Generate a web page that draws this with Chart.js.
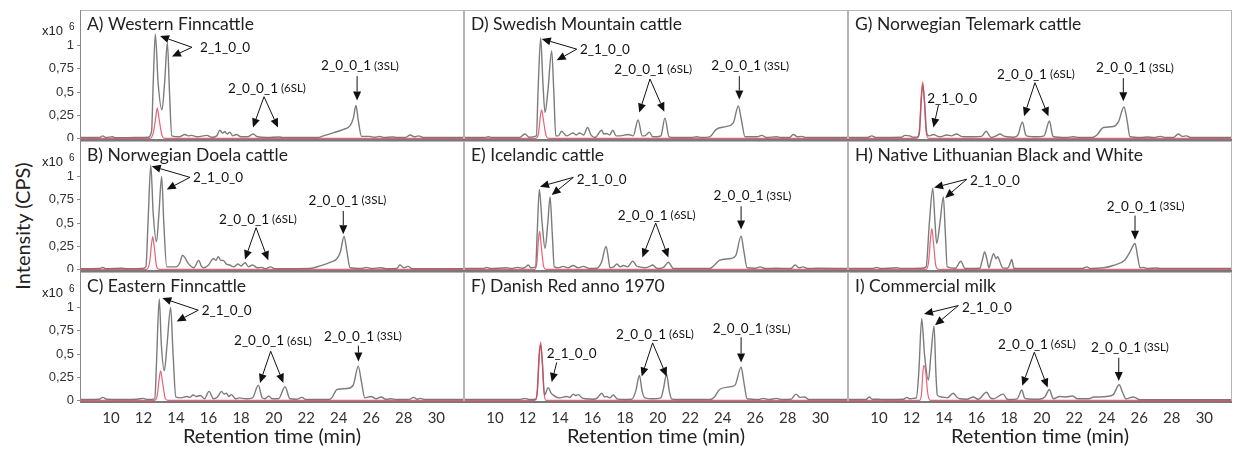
<!DOCTYPE html>
<html>
<head>
<meta charset="utf-8">
<script src="https://cdn.jsdelivr.net/npm/chart.js@4.4.0/dist/chart.umd.min.js"></script>
<style>
  body { margin: 0; background: #fff; width: 1235px; height: 451px; overflow: hidden; position: relative; }
  .panel { position: absolute; }
  #yTitle {
    position: absolute; left: -78px; top: 214px; width: 200px; height: 24px;
    text-align: center; font: 20px Lato, sans-serif; color: #222;
    transform: rotate(-90deg); line-height: 24px;
  }
</style>
</head>
<body>
<div id="yTitle">Intensity (CPS)</div>

<script>
// axis ticks
const xTickValues = [10, 12, 14, 16, 18, 20, 22, 24, 26, 28, 30];
const yTickValues = [0, 0.25, 0.5, 0.75, 1];
const yTickLabels = ["0", "0,25", "0,5", "0,75", "1"];

// [retention time (min), intensity (x10^6 CPS)]
const westernFinnGray = [[8.1,0.012],[9.3,0.012],[9.5,0.03],[9.7,0.012],[10.1,0.02],[10.3,0.01],[11.5,0.012],[12.3,0.015],[12.5,0.08],[12.6,0.6],[12.73,1.12],[12.9,0.6],[13.14,0.31],[13.3,0.6],[13.47,1.03],[13.6,0.5],[13.74,0.03],[14.2,0.02],[14.55,0.045],[14.75,0.03],[14.96,0.035],[15.3,0.02],[15.9,0.035],[16.2,0.015],[16.5,0.03],[16.7,0.09],[16.85,0.06],[17.0,0.075],[17.15,0.05],[17.3,0.07],[17.5,0.03],[17.7,0.045],[18.0,0.02],[18.4,0.02],[18.75,0.05],[19.0,0.02],[19.6,0.012],[20.3,0.018],[20.6,0.012],[22.7,0.012],[23.05,0.03],[23.7,0.065],[24.3,0.1],[24.7,0.14],[24.9,0.22],[25.06,0.355],[25.2,0.2],[25.4,0.025],[25.9,0.025],[26.2,0.015],[26.5,0.025],[26.8,0.012],[27.3,0.018],[27.6,0.012],[28.1,0.012],[28.4,0.04],[28.65,0.02],[28.9,0.03],[29.2,0.012],[31.7,0.012]];
const westernFinnRed = [[8.1,0.004],[12.4,0.004],[12.6,0.06],[12.75,0.22],[12.85,0.33],[12.97,0.2],[13.15,0.03],[13.3,0.004],[31.7,0.004]];

const doelaGray = [[8.1,0.01],[9.3,0.012],[9.5,0.025],[9.7,0.01],[10.7,0.015],[11.0,0.01],[11.9,0.012],[12.15,0.03],[12.28,0.5],[12.45,1.12],[12.6,0.6],[12.8,0.3],[12.95,0.6],[13.12,1.0],[13.25,0.5],[13.43,0.03],[14.0,0.03],[14.25,0.08],[14.4,0.155],[14.55,0.13],[14.7,0.08],[14.9,0.04],[15.1,0.02],[15.4,0.1],[15.55,0.04],[15.7,0.02],[16.0,0.05],[16.3,0.12],[16.45,0.1],[16.6,0.14],[16.75,0.1],[16.9,0.1],[17.1,0.06],[17.3,0.05],[17.55,0.03],[17.8,0.06],[18.0,0.04],[18.25,0.075],[18.45,0.03],[18.7,0.05],[19.0,0.02],[19.27,0.025],[19.5,0.01],[19.8,0.03],[20.1,0.01],[22.2,0.012],[22.85,0.04],[23.5,0.08],[23.9,0.12],[24.1,0.19],[24.33,0.355],[24.5,0.2],[24.7,0.02],[25.4,0.012],[25.7,0.025],[26.0,0.012],[26.6,0.02],[26.9,0.01],[27.55,0.012],[27.77,0.05],[28.0,0.02],[28.26,0.035],[28.5,0.01],[31.7,0.01]];
const doelaRed = [[8.1,0.004],[12.2,0.004],[12.38,0.08],[12.5,0.28],[12.57,0.355],[12.66,0.25],[12.8,0.04],[12.95,0.004],[31.7,0.004]];

const easternFinnGray = [[8.1,0.012],[9.3,0.015],[9.5,0.035],[9.75,0.015],[10.5,0.012],[11.6,0.015],[12.0,0.025],[12.2,0.012],[12.7,0.02],[12.8,0.4],[12.97,1.09],[13.1,0.6],[13.28,0.32],[13.45,0.6],[13.67,1.0],[13.82,0.5],[13.99,0.04],[14.3,0.03],[14.66,0.045],[14.85,0.035],[15.05,0.06],[15.25,0.045],[15.5,0.055],[15.75,0.02],[16.03,0.1],[16.3,0.02],[16.55,0.04],[16.8,0.1],[16.95,0.07],[17.1,0.08],[17.25,0.045],[17.4,0.065],[17.65,0.02],[17.9,0.03],[18.3,0.02],[18.7,0.03],[19.06,0.165],[19.3,0.03],[19.47,0.02],[19.7,0.05],[19.9,0.02],[20.3,0.02],[20.7,0.15],[21.0,0.02],[21.4,0.015],[21.73,0.035],[22.0,0.012],[23.4,0.012],[23.57,0.03],[23.9,0.12],[24.5,0.13],[24.9,0.17],[25.2,0.37],[25.4,0.2],[25.6,0.03],[26.0,0.045],[26.3,0.02],[26.6,0.04],[26.9,0.015],[27.25,0.02],[27.5,0.012],[28.3,0.012],[28.6,0.035],[28.8,0.015],[29.0,0.025],[29.3,0.012],[31.7,0.012]];
const easternFinnRed = [[8.1,0.004],[12.7,0.004],[12.85,0.06],[12.97,0.24],[13.06,0.32],[13.17,0.2],[13.35,0.02],[13.5,0.004],[31.7,0.004]];

const swedishGray = [[8.1,0.012],[9.4,0.012],[9.6,0.02],[9.8,0.012],[11.5,0.012],[11.85,0.05],[12.1,0.015],[12.55,0.03],[12.65,0.5],[12.81,1.08],[12.95,0.6],[13.08,0.28],[13.25,0.5],[13.49,0.94],[13.62,0.5],[13.74,0.03],[13.9,0.03],[14.1,0.08],[14.4,0.03],[14.8,0.06],[15.0,0.04],[15.2,0.06],[15.45,0.04],[15.7,0.12],[15.9,0.04],[16.15,0.012],[16.56,0.09],[16.7,0.05],[16.87,0.055],[17.05,0.04],[17.24,0.09],[17.45,0.03],[17.7,0.03],[18.2,0.045],[18.5,0.03],[18.8,0.2],[19.05,0.03],[19.2,0.03],[19.5,0.07],[19.7,0.02],[19.94,0.02],[20.2,0.03],[20.45,0.22],[20.7,0.02],[21.0,0.012],[22.1,0.012],[22.4,0.02],[22.7,0.012],[23.2,0.02],[23.6,0.1],[24.2,0.13],[24.65,0.17],[24.96,0.35],[25.15,0.2],[25.37,0.02],[26.1,0.02],[26.4,0.035],[26.7,0.012],[27.3,0.02],[27.6,0.012],[28.1,0.012],[28.34,0.045],[28.6,0.02],[28.86,0.025],[29.1,0.012],[31.7,0.012]];
const swedishRed = [[8.1,0.004],[12.5,0.004],[12.68,0.06],[12.8,0.25],[12.87,0.31],[12.98,0.2],[13.15,0.03],[13.3,0.004],[31.7,0.004]];

const icelandicGray = [[8.1,0.012],[9.3,0.012],[9.5,0.025],[9.7,0.012],[10.7,0.02],[11.0,0.012],[11.4,0.025],[11.7,0.015],[11.9,0.03],[12.05,0.05],[12.2,0.02],[12.5,0.03],[12.6,0.4],[12.73,0.86],[12.9,0.5],[13.08,0.23],[13.25,0.5],[13.39,0.78],[13.52,0.4],[13.65,0.03],[13.9,0.02],[14.2,0.035],[14.5,0.02],[14.82,0.045],[15.1,0.02],[15.43,0.035],[15.8,0.012],[16.26,0.015],[16.55,0.08],[16.83,0.25],[16.95,0.15],[17.07,0.02],[17.3,0.03],[17.5,0.06],[17.7,0.03],[17.9,0.045],[18.15,0.03],[18.47,0.09],[18.7,0.04],[18.9,0.03],[19.2,0.02],[19.45,0.03],[19.7,0.05],[19.9,0.02],[20.1,0.012],[20.4,0.03],[20.66,0.08],[20.97,0.012],[23.2,0.012],[23.5,0.05],[23.8,0.1],[24.5,0.12],[24.8,0.15],[25.13,0.36],[25.3,0.2],[25.5,0.02],[26.0,0.015],[26.3,0.03],[26.6,0.012],[27.3,0.015],[28.2,0.012],[28.45,0.05],[28.7,0.02],[28.94,0.03],[29.2,0.012],[29.78,0.015],[31.7,0.012]];
const icelandicRed = [[8.1,0.004],[12.45,0.004],[12.58,0.08],[12.68,0.33],[12.75,0.41],[12.85,0.25],[13.0,0.03],[13.15,0.004],[31.7,0.004]];

const danishGray = [[8.1,0.012],[11.5,0.012],[11.85,0.025],[12.1,0.012],[12.5,0.015],[12.6,0.1],[12.72,0.5],[12.81,0.6],[12.92,0.4],[13.05,0.06],[13.28,0.14],[13.45,0.08],[13.59,0.06],[13.8,0.035],[14.0,0.03],[14.41,0.045],[14.6,0.035],[14.82,0.07],[14.95,0.055],[15.13,0.065],[15.35,0.03],[15.64,0.02],[16.0,0.015],[16.3,0.03],[16.56,0.08],[16.75,0.04],[16.87,0.045],[17.05,0.03],[17.28,0.06],[17.5,0.02],[17.9,0.012],[18.4,0.015],[18.65,0.1],[18.88,0.27],[19.05,0.1],[19.22,0.03],[19.7,0.02],[20.2,0.03],[20.35,0.12],[20.55,0.28],[20.72,0.1],[20.86,0.02],[21.2,0.012],[23.2,0.012],[23.5,0.04],[23.8,0.12],[24.5,0.15],[24.77,0.17],[25.13,0.36],[25.3,0.2],[25.5,0.02],[26.2,0.012],[26.5,0.025],[26.8,0.012],[27.3,0.025],[27.6,0.012],[28.2,0.015],[28.5,0.07],[28.75,0.035],[29.05,0.04],[29.3,0.012],[31.7,0.012]];
const danishRed = [[8.1,0.004],[12.45,0.004],[12.6,0.08],[12.72,0.45],[12.81,0.63],[12.9,0.45],[13.02,0.08],[13.15,0.004],[31.7,0.004]];

const telemarkGray = [[8.1,0.012],[9.3,0.012],[9.56,0.03],[9.8,0.012],[11.4,0.015],[11.6,0.035],[11.9,0.03],[12.1,0.015],[12.4,0.02],[12.5,0.08],[12.6,0.4],[12.69,0.58],[12.8,0.4],[12.95,0.05],[13.1,0.03],[13.35,0.045],[13.55,0.03],[13.76,0.02],[14.17,0.04],[14.45,0.03],[14.78,0.05],[15.0,0.03],[15.19,0.02],[15.8,0.02],[16.3,0.025],[16.6,0.08],[16.8,0.03],[16.93,0.012],[17.2,0.03],[17.44,0.05],[17.65,0.03],[17.85,0.02],[18.3,0.015],[18.55,0.04],[18.82,0.18],[19.0,0.05],[19.08,0.03],[19.7,0.02],[20.15,0.03],[20.48,0.19],[20.65,0.05],[20.73,0.02],[21.5,0.012],[21.96,0.02],[22.3,0.012],[23.1,0.012],[23.4,0.04],[23.8,0.12],[24.4,0.13],[24.72,0.18],[25.06,0.34],[25.25,0.2],[25.43,0.02],[26.1,0.012],[26.5,0.018],[26.9,0.012],[27.3,0.025],[27.6,0.012],[28.1,0.012],[28.4,0.05],[28.65,0.025],[28.9,0.03],[29.15,0.012],[31.7,0.012]];
const telemarkRed = [[8.1,0.004],[12.3,0.004],[12.48,0.08],[12.6,0.45],[12.69,0.61],[12.78,0.45],[12.9,0.08],[13.05,0.004],[31.7,0.004]];

const lithuanianGray = [[8.1,0.012],[9.6,0.012],[9.87,0.025],[10.1,0.012],[11.1,0.02],[11.4,0.012],[12.6,0.015],[12.9,0.03],[13.1,0.5],[13.31,0.87],[13.45,0.5],[13.55,0.28],[13.75,0.5],[13.96,0.78],[14.08,0.4],[14.2,0.03],[14.7,0.015],[15.03,0.09],[15.3,0.012],[16.2,0.015],[16.35,0.1],[16.5,0.19],[16.65,0.1],[16.76,0.02],[16.9,0.1],[17.05,0.17],[17.2,0.12],[17.3,0.14],[17.45,0.08],[17.6,0.02],[17.9,0.015],[18.05,0.06],[18.16,0.11],[18.3,0.015],[18.7,0.012],[22.5,0.012],[22.78,0.03],[23.0,0.012],[23.8,0.02],[24.4,0.045],[25.1,0.1],[25.4,0.18],[25.74,0.28],[25.9,0.14],[26.05,0.02],[26.25,0.025],[26.5,0.012],[27.07,0.018],[27.3,0.012],[31.7,0.012]];
const lithuanianRed = [[8.1,0.004],[12.9,0.004],[13.05,0.08],[13.18,0.35],[13.25,0.44],[13.35,0.3],[13.5,0.04],[13.65,0.004],[31.7,0.004]];

const commercialGray = [[8.1,0.012],[9.2,0.012],[9.41,0.04],[9.6,0.015],[9.97,0.015],[10.3,0.012],[11.5,0.015],[11.71,0.035],[11.9,0.02],[12.1,0.025],[12.3,0.03],[12.45,0.3],[12.63,0.88],[12.8,0.5],[13.04,0.22],[13.2,0.5],[13.39,0.8],[13.5,0.3],[13.59,0.06],[13.86,0.04],[14.2,0.03],[14.57,0.08],[14.78,0.04],[14.98,0.02],[15.4,0.015],[15.8,0.04],[16.1,0.015],[16.62,0.09],[16.85,0.03],[17.03,0.02],[17.64,0.07],[17.85,0.02],[18.06,0.012],[18.5,0.02],[18.78,0.115],[18.95,0.03],[19.08,0.02],[19.8,0.015],[20.2,0.04],[20.48,0.12],[20.65,0.04],[20.73,0.02],[21.1,0.045],[21.5,0.04],[21.9,0.05],[22.2,0.02],[22.56,0.02],[22.9,0.02],[23.2,0.04],[23.6,0.04],[24.0,0.045],[24.4,0.065],[24.77,0.17],[24.95,0.1],[25.18,0.02],[25.64,0.04],[26.05,0.01],[31.7,0.01]];
const commercialRed = [[8.1,0.004],[12.5,0.004],[12.62,0.08],[12.7,0.3],[12.77,0.38],[12.88,0.3],[13.0,0.08],[13.15,0.004],[31.7,0.004]];

// annotations: labels [text, small text, time, intensity, align], arrows [t1, v1, t2, v2]
const labelsA = [["2_1_0_0", "", 15.48, 0.98, "left"], ["2_0_0_1", "(6SL)", 19.59, 0.54, "center"], ["2_0_0_1", "(3SL)", 25.31, 0.78, "center"]];
const arrowsA = [[14.98,0.98,13.02,1.10],[14.98,0.98,13.75,0.88],[19.41,0.45,18.73,0.12],[19.41,0.45,20.27,0.12],[25.13,0.67,25.13,0.41]];
const labelsB = [["2_1_0_0", "", 15.05, 0.99, "left"], ["2_0_0_1", "(6SL)", 19.04, 0.54, "center"], ["2_0_0_1", "(3SL)", 24.54, 0.74, "center"]];
const arrowsB = [[14.86,0.99,12.51,1.11],[14.86,0.99,13.43,0.86],[18.92,0.45,18.24,0.11],[18.92,0.45,19.67,0.10],[24.28,0.63,24.28,0.38]];
const labelsC = [["2_1_0_0", "", 15.58, 0.97, "left"], ["2_0_0_1", "(6SL)", 19.96, 0.64, "center"], ["2_0_0_1", "(3SL)", 25.49, 0.69, "center"]];
const arrowsC = [[15.37,0.97,13.16,1.10],[15.37,0.97,14.04,0.85],[19.82,0.53,19.16,0.19],[19.82,0.53,20.6,0.19],[25.21,0.59,25.21,0.42]];
const labelsD = [["2_1_0_0", "", 15.23, 0.96, "left"], ["2_0_0_1", "(6SL)", 19.72, 0.74, "center"], ["2_0_0_1", "(3SL)", 25.68, 0.78, "center"]];
const arrowsD = [[15.03,0.96,12.88,1.07],[15.03,0.96,13.8,0.84],[19.53,0.64,18.87,0.28],[19.53,0.64,20.41,0.29],[25.02,0.67,25.02,0.42]];
const labelsE = [["2_1_0_0", "", 15.03, 0.97, "left"], ["2_0_0_1", "(6SL)", 19.94, 0.58, "center"], ["2_0_0_1", "(3SL)", 25.83, 0.79, "center"]];
const arrowsE = [[14.82,0.99,12.77,0.89],[14.82,0.99,13.49,0.80],[19.88,0.50,19.06,0.13],[19.88,0.50,20.66,0.13],[25.13,0.68,25.13,0.43]];
const labelsF = [["2_1_0_0", "", 13.18, 0.50, "left"], ["2_0_0_1", "(6SL)", 19.84, 0.71, "center"], ["2_0_0_1", "(3SL)", 25.78, 0.77, "center"]];
const arrowsF = [[13.8,0.41,13.49,0.20],[19.69,0.62,19.02,0.26],[19.69,0.62,20.56,0.26],[25.13,0.68,25.13,0.41]];
const labelsG = [["2_1_0_0", "", 12.97, 0.43, "left"], ["2_0_0_1", "(6SL)", 19.65, 0.69, "center"], ["2_0_0_1", "(3SL)", 25.74, 0.76, "center"]];
const arrowsG = [[13.66,0.36,13.35,0.12],[19.59,0.60,18.92,0.24],[19.59,0.60,20.42,0.24],[25.02,0.65,25.02,0.40]];
const labelsH = [["2_1_0_0", "", 15.6, 0.95, "left"], ["2_0_0_1", "(3SL)", 26.4, 0.68, "center"]];
const arrowsH = [[15.4,0.97,13.39,0.88],[15.4,0.97,14.07,0.77],[25.74,0.58,25.74,0.32]];
const labelsI = [["2_1_0_0", "", 15.1, 1.0, "left"], ["2_0_0_1", "(6SL)", 19.71, 0.60, "center"], ["2_0_0_1", "(3SL)", 25.43, 0.57, "center"]];
const arrowsI = [[14.88,1.02,12.77,0.93],[14.88,1.02,13.45,0.81],[19.55,0.52,18.81,0.16],[19.55,0.52,20.37,0.14],[24.74,0.46,24.74,0.21]];

const panels = [
  { col: 0, row: 0, title: "A) Western Finncattle", gray: westernFinnGray, red: westernFinnRed, labels: labelsA, arrows: arrowsA },
  { col: 0, row: 1, title: "B) Norwegian Doela cattle", gray: doelaGray, red: doelaRed, labels: labelsB, arrows: arrowsB },
  { col: 0, row: 2, title: "C) Eastern Finncattle", gray: easternFinnGray, red: easternFinnRed, labels: labelsC, arrows: arrowsC },
  { col: 1, row: 0, title: "D) Swedish Mountain cattle", gray: swedishGray, red: swedishRed, labels: labelsD, arrows: arrowsD },
  { col: 1, row: 1, title: "E) Icelandic cattle", gray: icelandicGray, red: icelandicRed, labels: labelsE, arrows: arrowsE },
  { col: 1, row: 2, title: "F) Danish Red anno 1970", gray: danishGray, red: danishRed, labels: labelsF, arrows: arrowsF },
  { col: 2, row: 0, title: "G) Norwegian Telemark cattle", gray: telemarkGray, red: telemarkRed, labels: labelsG, arrows: arrowsG },
  { col: 2, row: 1, title: "H) Native Lithuanian Black and White", gray: lithuanianGray, red: lithuanianRed, labels: labelsH, arrows: arrowsH },
  { col: 2, row: 2, title: "I) Commercial milk", gray: commercialGray, red: commercialRed, labels: labelsI, arrows: arrowsI },
];

const PLOT_W = 384, PLOT_H = 131, AXIS_W = 80, XAXIS_H = 48;
const TEXT = "#222";

function drawArrow(ctx, x1, y1, x2, y2) {
  const ang = Math.atan2(y2 - y1, x2 - x1);
  const len = 9, half = 4;
  const bx = x2 - Math.cos(ang) * len, by = y2 - Math.sin(ang) * len;
  ctx.beginPath();
  ctx.moveTo(x1, y1);
  ctx.lineTo(bx, by);
  ctx.stroke();
  ctx.beginPath();
  ctx.moveTo(x2, y2);
  ctx.lineTo(bx - Math.sin(ang) * half, by + Math.cos(ang) * half);
  ctx.lineTo(bx + Math.sin(ang) * half, by - Math.cos(ang) * half);
  ctx.closePath();
  ctx.fill();
}

function makeDecor(p) {
  return {
    id: "decor" + p.col + p.row,
    afterDatasetsDraw(chart) {
      const { ctx, chartArea: a, scales } = chart;
      const x = scales.x, y = scales.y;
      ctx.save();
      // frame
      ctx.strokeStyle = "#b5b5b5";
      ctx.lineWidth = 1;
      ctx.strokeRect(a.left + 0.5, a.top + 0.5, a.width - 1, a.height - 1);
      ctx.strokeStyle = "#7a7a7a";
      ctx.lineWidth = 2;
      ctx.beginPath();
      ctx.moveTo(a.left, a.bottom - 1);
      ctx.lineTo(a.right, a.bottom - 1);
      ctx.stroke();
      if (p.col === 0) {
        ctx.beginPath();
        ctx.strokeStyle = "#8a8a8a";
        ctx.lineWidth = 1;
        ctx.moveTo(a.left + 0.5, a.top);
        ctx.lineTo(a.left + 0.5, a.bottom);
        ctx.stroke();
        ctx.fillStyle = TEXT;
        ctx.textBaseline = "middle";
        ctx.textAlign = "right";
        ctx.font = "13px 'Liberation Sans', Arial";
        const yy = y.getPixelForValue(1.15);
        ctx.fillText("x10", a.left - 17, yy);
        ctx.textAlign = "left";
        ctx.font = "10px 'Liberation Sans', Arial";
        ctx.fillText("6", a.left - 11, yy - 4);
      }
      // title
      ctx.fillStyle = TEXT;
      ctx.textAlign = "left";
      ctx.textBaseline = "middle";
      ctx.font = "17.5px Lato";
      ctx.fillText(p.title, a.left + 7, a.top + 14);
      // labels
      ctx.fillStyle = "#111";
      p.labels.forEach(([main, small, t, v, align]) => {
        ctx.font = "13.5px Lato";
        const w1 = ctx.measureText(main).width;
        ctx.font = "11.5px Lato";
        const w2 = small ? ctx.measureText(" " + small).width : 0;
        let lx = x.getPixelForValue(t);
        if (align === "center") lx -= (w1 + w2) / 2;
        const ly = y.getPixelForValue(v);
        ctx.textAlign = "left";
        ctx.font = "13.5px Lato";
        ctx.fillText(main, lx, ly);
        if (small) {
          ctx.font = "11.5px Lato";
          ctx.fillText(" " + small, lx + w1, ly);
        }
      });
      // arrows
      ctx.strokeStyle = "#111";
      ctx.fillStyle = "#111";
      ctx.lineWidth = 1;
      p.arrows.forEach(([t1, v1, t2, v2]) => {
        drawArrow(ctx, x.getPixelForValue(t1), y.getPixelForValue(v1), x.getPixelForValue(t2), y.getPixelForValue(v2));
      });
      ctx.restore();
    }
  };
}

const toPoints = (arr) => arr.map(([t, v]) => ({ x: t, y: v }));

panels.forEach((p) => {
  const left = p.col === 0 ? 0 : AXIS_W + PLOT_W * p.col;
  const width = p.col === 0 ? AXIS_W + PLOT_W : PLOT_W;
  const top = 10 + PLOT_H * p.row;
  const height = p.row === 2 ? PLOT_H + XAXIS_H : PLOT_H;
  const showX = p.row === 2;
  const showY = p.col === 0;

  const box = document.createElement("div");
  box.className = "panel";
  box.style.left = left + "px";
  box.style.top = top + "px";
  box.style.width = width + "px";
  box.style.height = height + "px";
  const canvas = document.createElement("canvas");
  box.appendChild(canvas);
  document.body.appendChild(box);

  new Chart(canvas.getContext("2d"), {
    type: "line",
    data: {
      datasets: [
        {
          data: toPoints(p.red),
          borderColor: "rgba(226, 60, 84, 0.8)",
          borderWidth: 1.2,
          pointRadius: 0,
          cubicInterpolationMode: "monotone",
        },
        {
          data: toPoints(p.gray),
          borderColor: "#7c7c7c",
          borderWidth: 1.4,
          pointRadius: 0,
          cubicInterpolationMode: "monotone",
        },
      ],
    },
    options: {
      responsive: true,
      maintainAspectRatio: false,
      animation: false,
      events: [],
      layout: { padding: 0, autoPadding: false },
      plugins: { legend: { display: false }, tooltip: { enabled: false } },
      scales: {
        x: {
          type: "linear",
          min: 8.1,
          max: 31.7,
          display: showX,
          afterBuildTicks: (s) => { s.ticks = xTickValues.map((v) => ({ value: v })); },
          afterFit: (s) => {
            s.height = showX ? XAXIS_H : 0;
            s.paddingLeft = s.paddingRight = s.paddingTop = s.paddingBottom = 0;
          },
          grid: { display: false, drawTicks: false },
          border: { display: false },
          ticks: { font: { family: "Lato", size: 15 }, color: "#333", padding: 6, maxRotation: 0 },
          title: {
            display: true,
            text: "Retention time (min)",
            font: { family: "Lato", size: 20 },
            color: TEXT,
            padding: { top: 0, bottom: 2 },
          },
        },
        y: {
          min: -0.025,
          max: 1.38,
          display: showY,
          afterBuildTicks: (s) => { s.ticks = yTickValues.map((v) => ({ value: v })); },
          afterFit: (s) => {
            s.width = showY ? AXIS_W : 0;
            s.paddingLeft = s.paddingRight = s.paddingTop = s.paddingBottom = 0;
          },
          grid: { drawOnChartArea: false, drawTicks: true, tickLength: 3, color: "#8a8a8a" },
          border: { display: false },
          ticks: {
            font: { family: "'Liberation Sans', Arial", size: 13 },
            color: "#333",
            padding: 3,
            callback: (value) => yTickLabels[yTickValues.indexOf(value)],
          },
        },
      },
    },
    plugins: [makeDecor(p)],
  });
});
</script>
</body>
</html>
